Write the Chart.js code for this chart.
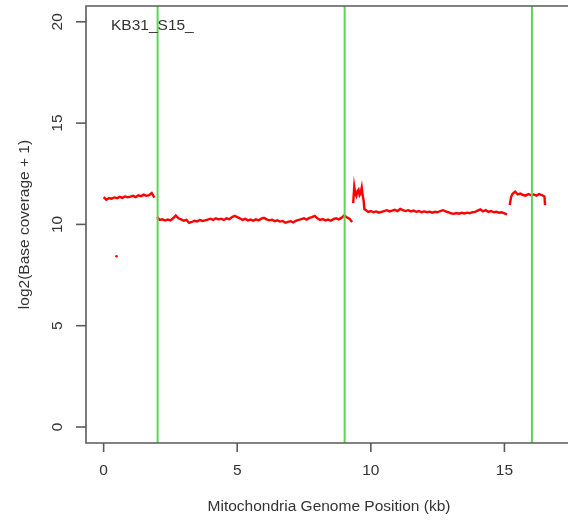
<!DOCTYPE html>
<html>
<head>
<meta charset="utf-8">
<script src="https://cdn.jsdelivr.net/npm/chart.js@4"></script>
<style>
  html, body { margin: 0; padding: 0; background: #fff; }
  #chart { display: block; }
</style>
</head>
<body>
<canvas id="chart" width="568" height="521"></canvas>
<script>
// pozicije (kb) i pokrivenost, null = prekid linije
const positions = [
  0.0, 0.1, 0.2, 0.3, 0.4, 0.5, 0.6, 0.7, 0.8, 0.9, 1.0, 1.1, 1.2, 1.3, 1.4, 1.5, 1.6, 1.7, 1.8, 1.9,
  1.95,
  2.0, 2.1, 2.2, 2.3, 2.4, 2.5, 2.6, 2.7, 2.8, 2.9, 3.0, 3.1, 3.2, 3.3, 3.4, 3.5, 3.6, 3.7, 3.8, 3.9,
  4.0, 4.1, 4.2, 4.3, 4.4, 4.5, 4.6, 4.7, 4.8, 4.9, 5.0, 5.1, 5.2, 5.3, 5.4, 5.5, 5.6, 5.7, 5.8, 5.9,
  6.0, 6.1, 6.2, 6.3, 6.4, 6.5, 6.6, 6.7, 6.8, 6.9, 7.0, 7.1, 7.2, 7.3, 7.4, 7.5, 7.6, 7.7, 7.8, 7.9,
  8.0, 8.1, 8.2, 8.3, 8.4, 8.5, 8.6, 8.7, 8.8, 8.9, 9.0, 9.1, 9.2, 9.3,
  9.32,
  9.34, 9.38, 9.42, 9.46, 9.5, 9.54, 9.58, 9.62, 9.66, 9.7, 9.73, 9.76,
  9.8, 9.9, 10.0, 10.1, 10.2, 10.3, 10.4, 10.5, 10.6, 10.7, 10.8, 10.9, 11.0, 11.1, 11.2, 11.3, 11.4,
  11.5, 11.6, 11.7, 11.8, 11.9, 12.0, 12.1, 12.2, 12.3, 12.4, 12.5, 12.6, 12.7, 12.8, 12.9, 13.0,
  13.1, 13.2, 13.3, 13.4, 13.5, 13.6, 13.7, 13.8, 13.9, 14.0, 14.1, 14.2, 14.3, 14.4, 14.5, 14.6,
  14.7, 14.8, 14.9, 15.0, 15.1,
  15.15,
  15.2, 15.25, 15.3, 15.4, 15.5, 15.6, 15.7, 15.8, 15.9, 16.0, 16.1, 16.2, 16.3, 16.4, 16.5, 16.52
];

const coverage = [
  11.35, 11.22, 11.3, 11.27, 11.33, 11.29, 11.36, 11.31, 11.38, 11.34, 11.37, 11.41, 11.35, 11.43, 11.39, 11.47, 11.41, 11.44, 11.55, 11.32,
  null,
  10.37, 10.22, 10.25, 10.19, 10.24, 10.2, 10.3, 10.44, 10.3, 10.25, 10.18, 10.22, 10.08, 10.12, 10.18, 10.15, 10.22, 10.17, 10.2, 10.24,
  10.28, 10.22, 10.3, 10.25, 10.28, 10.22, 10.3, 10.26, 10.35, 10.42, 10.36, 10.3, 10.22, 10.27, 10.2, 10.24, 10.18, 10.25, 10.2, 10.28,
  10.32, 10.25, 10.2, 10.23, 10.16, 10.2, 10.14, 10.17, 10.08, 10.12, 10.16, 10.1, 10.18, 10.22, 10.26, 10.3, 10.24, 10.32, 10.36, 10.42,
  10.3, 10.22, 10.26, 10.2, 10.24, 10.18, 10.26, 10.3, 10.25, 10.32, 10.44, 10.35, 10.28, 10.12,
  null,
  11.05, 11.85, 11.5, 11.4, 11.65, 11.72, 11.45, 11.55, 11.82, 11.4, 11.2, 10.75,
  10.72, 10.62, 10.66, 10.6, 10.64, 10.58, 10.62, 10.66, 10.7, 10.64, 10.68, 10.72, 10.66, 10.76, 10.7, 10.66, 10.7,
  10.64, 10.68, 10.62, 10.66, 10.6, 10.64, 10.6, 10.63, 10.58, 10.62, 10.6, 10.66, 10.7, 10.64, 10.6, 10.55,
  10.52, 10.56, 10.53, 10.57, 10.54, 10.58, 10.55, 10.6, 10.62, 10.68, 10.74, 10.64, 10.7, 10.62, 10.66, 10.6,
  10.62, 10.58, 10.6, 10.55, 10.5,
  null,
  10.95, 11.35, 11.5, 11.62, 11.48, 11.52, 11.45, 11.42, 11.5, 11.44, 11.48, 11.42, 11.5, 11.45, 11.38, 10.95
];

// usamljena tacka
const outlierPos = [0.48];
const outlierCov = [8.43];

// granice regiona (zelene linije)
const boundaries = [2.02, 9.02, 16.03];

const xTicks = [0, 5, 10, 15];
const yTicks = [0, 5, 10, 15, 20];

const sampleName = "KB31_S15_";
const xTitle = "Mitochondria Genome Position (kb)";
const yTitle = "log2(Base coverage + 1)";

const X_MIN = -0.66, X_MAX = 17.38;
const Y_MIN = -0.79, Y_MAX = 20.78;

document.addEventListener('DOMContentLoaded', () => {
  const ctx = document.getElementById('chart').getContext('2d');
  const font = '15.5px "Liberation Sans", Arial, sans-serif';

  // R-stil osa: okvir, crtice, natpisi
  const rAxes = {
    id: 'rAxes',
    afterDraw(chart) {
      const c = chart.ctx;
      const a = chart.chartArea;
      const xs = chart.scales.x;
      const ys = chart.scales.y;
      c.save();
      c.strokeStyle = '#5a5a5a';
      c.lineWidth = 1.6;
      c.beginPath();
      c.moveTo(chart.width + 2, a.top);
      c.lineTo(a.left, a.top);
      c.lineTo(a.left, a.bottom);
      c.lineTo(chart.width + 2, a.bottom);
      c.stroke();

      c.fillStyle = '#333';
      c.font = font;
      c.textAlign = 'center';
      c.textBaseline = 'middle';

      xTicks.forEach(t => {
        const px = xs.getPixelForValue(t);
        c.beginPath();
        c.moveTo(px, a.bottom);
        c.lineTo(px, a.bottom + 9);
        c.stroke();
        c.fillText(String(t), px, 471);
      });

      yTicks.forEach(t => {
        const py = ys.getPixelForValue(t);
        c.beginPath();
        c.moveTo(a.left, py);
        c.lineTo(a.left - 10, py);
        c.stroke();
        c.save();
        c.translate(58, py);
        c.rotate(-Math.PI / 2);
        c.fillText(String(t), 0, 0);
        c.restore();
      });

      c.fillText(xTitle, 329, 507);

      c.save();
      c.translate(25, (a.top + a.bottom) / 2);
      c.rotate(-Math.PI / 2);
      c.fillText(yTitle, 0, 0);
      c.restore();

      c.textAlign = 'left';
      c.fillText(sampleName, 111, 26);
      c.restore();
    }
  };

  const lineData = positions.map((x, i) => ({ x: x, y: coverage[i] }));
  const outlierData = outlierPos.map((x, i) => ({ x: x, y: outlierCov[i] }));

  const greenSets = boundaries.map(b => ({
    type: 'line',
    data: [{ x: b, y: Y_MIN }, { x: b, y: Y_MAX }],
    borderColor: '#5fd35a',
    borderWidth: 2,
    pointRadius: 0,
    order: 0
  }));

  new Chart(ctx, {
    type: 'line',
    data: {
      datasets: [
        ...greenSets,
        {
          data: lineData,
          borderColor: '#ff0000',
          borderWidth: 2.4,
          pointRadius: 0,
          spanGaps: false,
          tension: 0,
          order: 1
        },
        {
          type: 'scatter',
          data: outlierData,
          backgroundColor: '#ff0000',
          borderWidth: 0,
          pointRadius: 1.3,
          order: 1
        }
      ]
    },
    options: {
      responsive: false,
      animation: false,
      events: [],
      layout: { autoPadding: false, padding: { left: 86, top: 6, right: 0, bottom: 78 } },
      plugins: {
        legend: { display: false },
        tooltip: { enabled: false }
      },
      scales: {
        x: { type: 'linear', display: false, min: X_MIN, max: X_MAX },
        y: { type: 'linear', display: false, min: Y_MIN, max: Y_MAX }
      }
    },
    plugins: [rAxes]
  });
});
</script>
</body>
</html>
